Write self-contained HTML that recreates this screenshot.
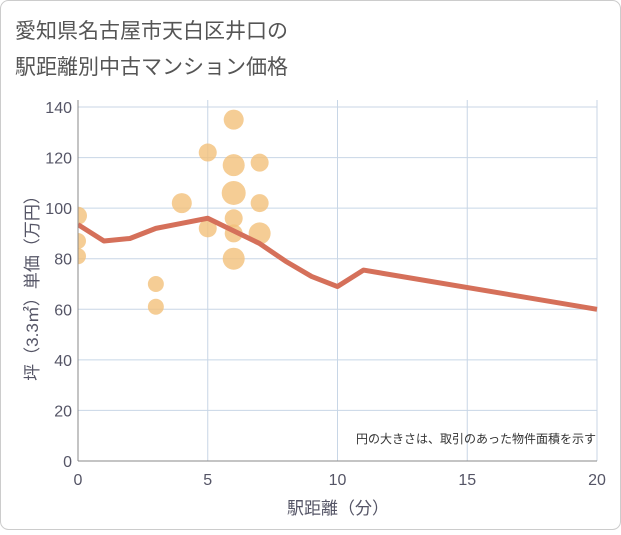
<!DOCTYPE html>
<html><head><meta charset="utf-8"><style>
body{margin:0;background:#fff;font-family:"Liberation Sans","Noto Sans CJK JP",sans-serif;}
#wrap{position:relative;width:621px;height:530px;}
</style></head><body>
<div id="wrap">
<svg id="c" width="621" height="530" xmlns="http://www.w3.org/2000/svg">
<defs><clipPath id="plotclip"><rect x="78" y="95" width="530" height="366"/></clipPath></defs>
<rect x="0.5" y="0.5" width="620" height="529" rx="8" fill="#fff" stroke="#ccc"/>
<text x="15" y="38" font-size="21" fill="#555">愛知県名古屋市天白区井口の</text>
<text x="15" y="74" font-size="21" fill="#555">駅距離別中古マンション価格</text>
<g id="grid"></g><g id="marks" clip-path="url(#plotclip)"></g><g id="axes"></g>
<text x="596" y="443" font-size="12" fill="#333" text-anchor="end">円の大きさは、取引のあった物件面積を示す</text>
<text x="338" y="514" font-size="17" fill="#556" text-anchor="middle">駅距離（分）</text>
<text transform="translate(38,284) rotate(-90)" font-size="17" fill="#556" text-anchor="middle">坪（3.3㎡）単価（万円）</text>
</svg></div>
<script>
const xTicks=[0,5,10,15,20];
const yTicks=[0,20,40,60,80,100,120,140];
const bubbleX=[0,0,0,3,3,4,5,5,6,6,6,6,6,6,7,7,7];
const bubbleY=[97,87,81,70,61,102,122,92,135,117,106,96,90,80,118,102,90];
const bubbleR=[9,8,8,8,8,10,9,9,10,11,12,9,9,11,9,9,11];
const lineX=[0,1,2,3,4,5,6,7,8,9,10,11,20];
const lineY=[93.5,87,88,92,94,96,91,86,79,73,69,75.5,60];
const X0=78,X1=597,Y0=461,Y1=107;
const sx=v=>X0+(v-0)/20*(X1-X0);
const sy=v=>Y0-(v/140)*(Y0-Y1);
const NS="http://www.w3.org/2000/svg";
function mk(t,a,p){const e=document.createElementNS(NS,t);for(const k in a)e.setAttribute(k,a[k]);p.appendChild(e);return e;}
const g=document.getElementById('grid'),m=document.getElementById('marks'),ax=document.getElementById('axes');
xTicks.forEach(v=>{const l=mk('line',{x1:sx(v),x2:sx(v),y1:100,y2:Y0,stroke:'#c8d6e6','stroke-width':1},g);


const t=mk('text',{x:sx(v),y:Y0+24,'font-size':16,fill:'#556','text-anchor':'middle'},ax);t.textContent=v;

});
yTicks.forEach(v=>{const l=mk('line',{x1:X0,x2:X1,y1:sy(v),y2:sy(v),stroke:'#c8d6e6','stroke-width':1},g);


const t=mk('text',{x:X0-6,y:sy(v)+6,'font-size':16,fill:'#556','text-anchor':'end'},ax);t.textContent=v;

});
const a1=mk('line',{x1:X0,x2:X0,y1:100,y2:Y0,stroke:'#888'},ax);


const a2=mk('line',{x1:X0,x2:X1,y1:Y0,y2:Y0,stroke:'#888'},ax);


bubbleX.forEach((v,i)=>{const c=mk('circle',{cx:sx(v),cy:sy(bubbleY[i]),r:bubbleR[i],fill:'#f3c07a','fill-opacity':0.8},m);

});
const p=mk('polyline',{points:lineX.map((v,i)=>sx(v)+','+sy(lineY[i])).join(' '),fill:'none',stroke:'#d5705a','stroke-width':5,'stroke-linejoin':'round'},m);


</script>
</body></html>
